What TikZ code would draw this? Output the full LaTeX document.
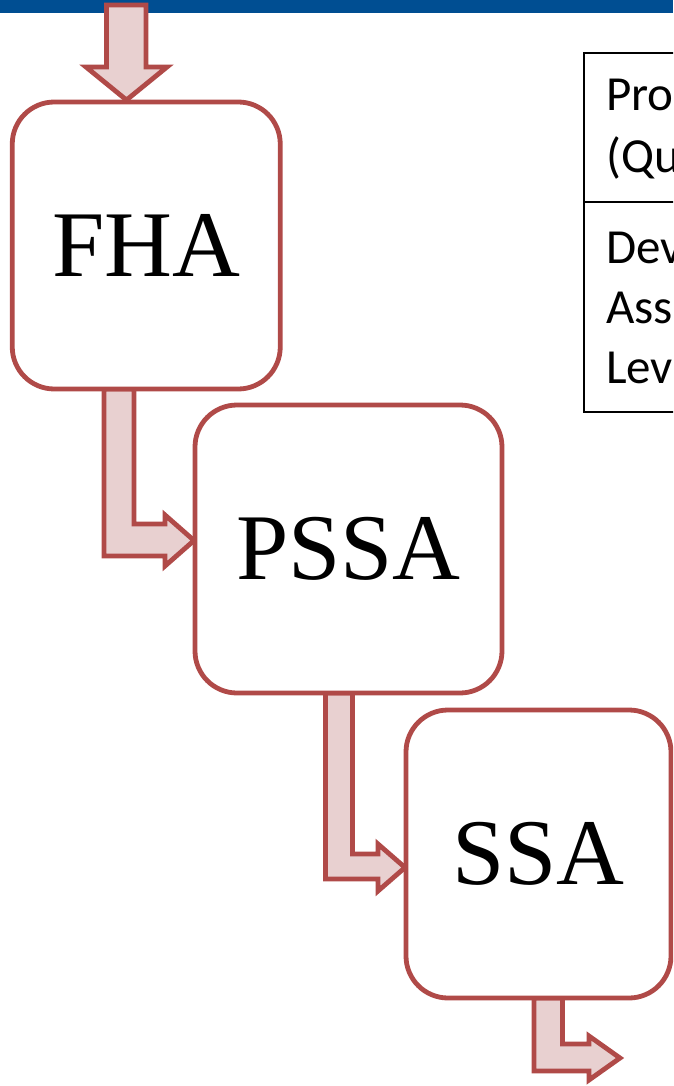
\documentclass[tikz,border=0pt]{standalone}
\usepackage{fontspec}
\setmainfont{Liberation Serif}
\newfontfamily\tablefont{Carlito}
\definecolor{barblue}{RGB}{0,78,146}
\definecolor{boxred}{RGB}{176,74,72}
\definecolor{arrowfill}{RGB}{232,208,208}
\tikzset{
  stage/.style={draw=boxred, line width=4.8pt, fill=white, rounded corners=42pt,
    inner sep=0pt, font=\fontsize{94}{100}\selectfont},
  blockarrow/.style={draw=boxred, line width=4.8pt, fill=arrowfill, line join=miter},
  celltext/.style={anchor=base west, inner sep=0pt, font=\tablefont\fontsize{49}{54}\selectfont},
}
\begin{document}
\begin{tikzpicture}[x=1pt, y=-1pt]
  \useasboundingbox (0,0) rectangle (673,1086);
  \clip (0,0) rectangle (673,1086);

  % title bar
  \fill[barblue] (0,0) rectangle (673,13);

  % incoming arrow
  \draw[blockarrow] (106.5,5) -- (146,5) -- (146,67) -- (167,67) -- (126.5,100)
    -- (86,67) -- (106.5,67) -- cycle;

  % bent arrows between the stages
  \draw[blockarrow] (104,389) -- (134,389) -- (134,524) -- (165,524) -- (165,515)
    -- (194,540.5) -- (165,566) -- (165,556) -- (104,556) -- cycle;
  \draw[blockarrow] (325.5,693) -- (352.5,693) -- (352.5,854) -- (378,854) -- (378,844)
    -- (405,867.5) -- (378,891) -- (378,879) -- (325.5,879) -- cycle;
  \draw[blockarrow] (534,998) -- (562.5,998) -- (562.5,1044) -- (589,1044) -- (589,1036)
    -- (620,1058) -- (589,1080) -- (589,1071) -- (534,1071) -- cycle;

  % stages
  \node[stage, minimum width=268pt, minimum height=287pt] (fha) at (146.25,245.5) {FHA};
  \node[stage, minimum width=307pt, minimum height=288pt] (pssa) at (348.5,549) {PSSA};
  \node[stage, minimum width=265pt, minimum height=288pt] (ssa) at (538.5,854) {SSA};

  % side table
  \draw[black, line width=2pt] (584,53) rectangle (700,412);
  \draw[black, line width=1.5pt] (584,202) -- (700,202);
  \node[celltext] (t1) at (606,111) {Pro};
  \node[celltext] (t2) at (606,173) {(Qu};
  \node[celltext] (t3) at (606,263) {Dev};
  \node[celltext] (t4) at (606,323) {Ass};
  \node[celltext] (t5) at (606,383) {Lev};
\end{tikzpicture}
\end{document}
